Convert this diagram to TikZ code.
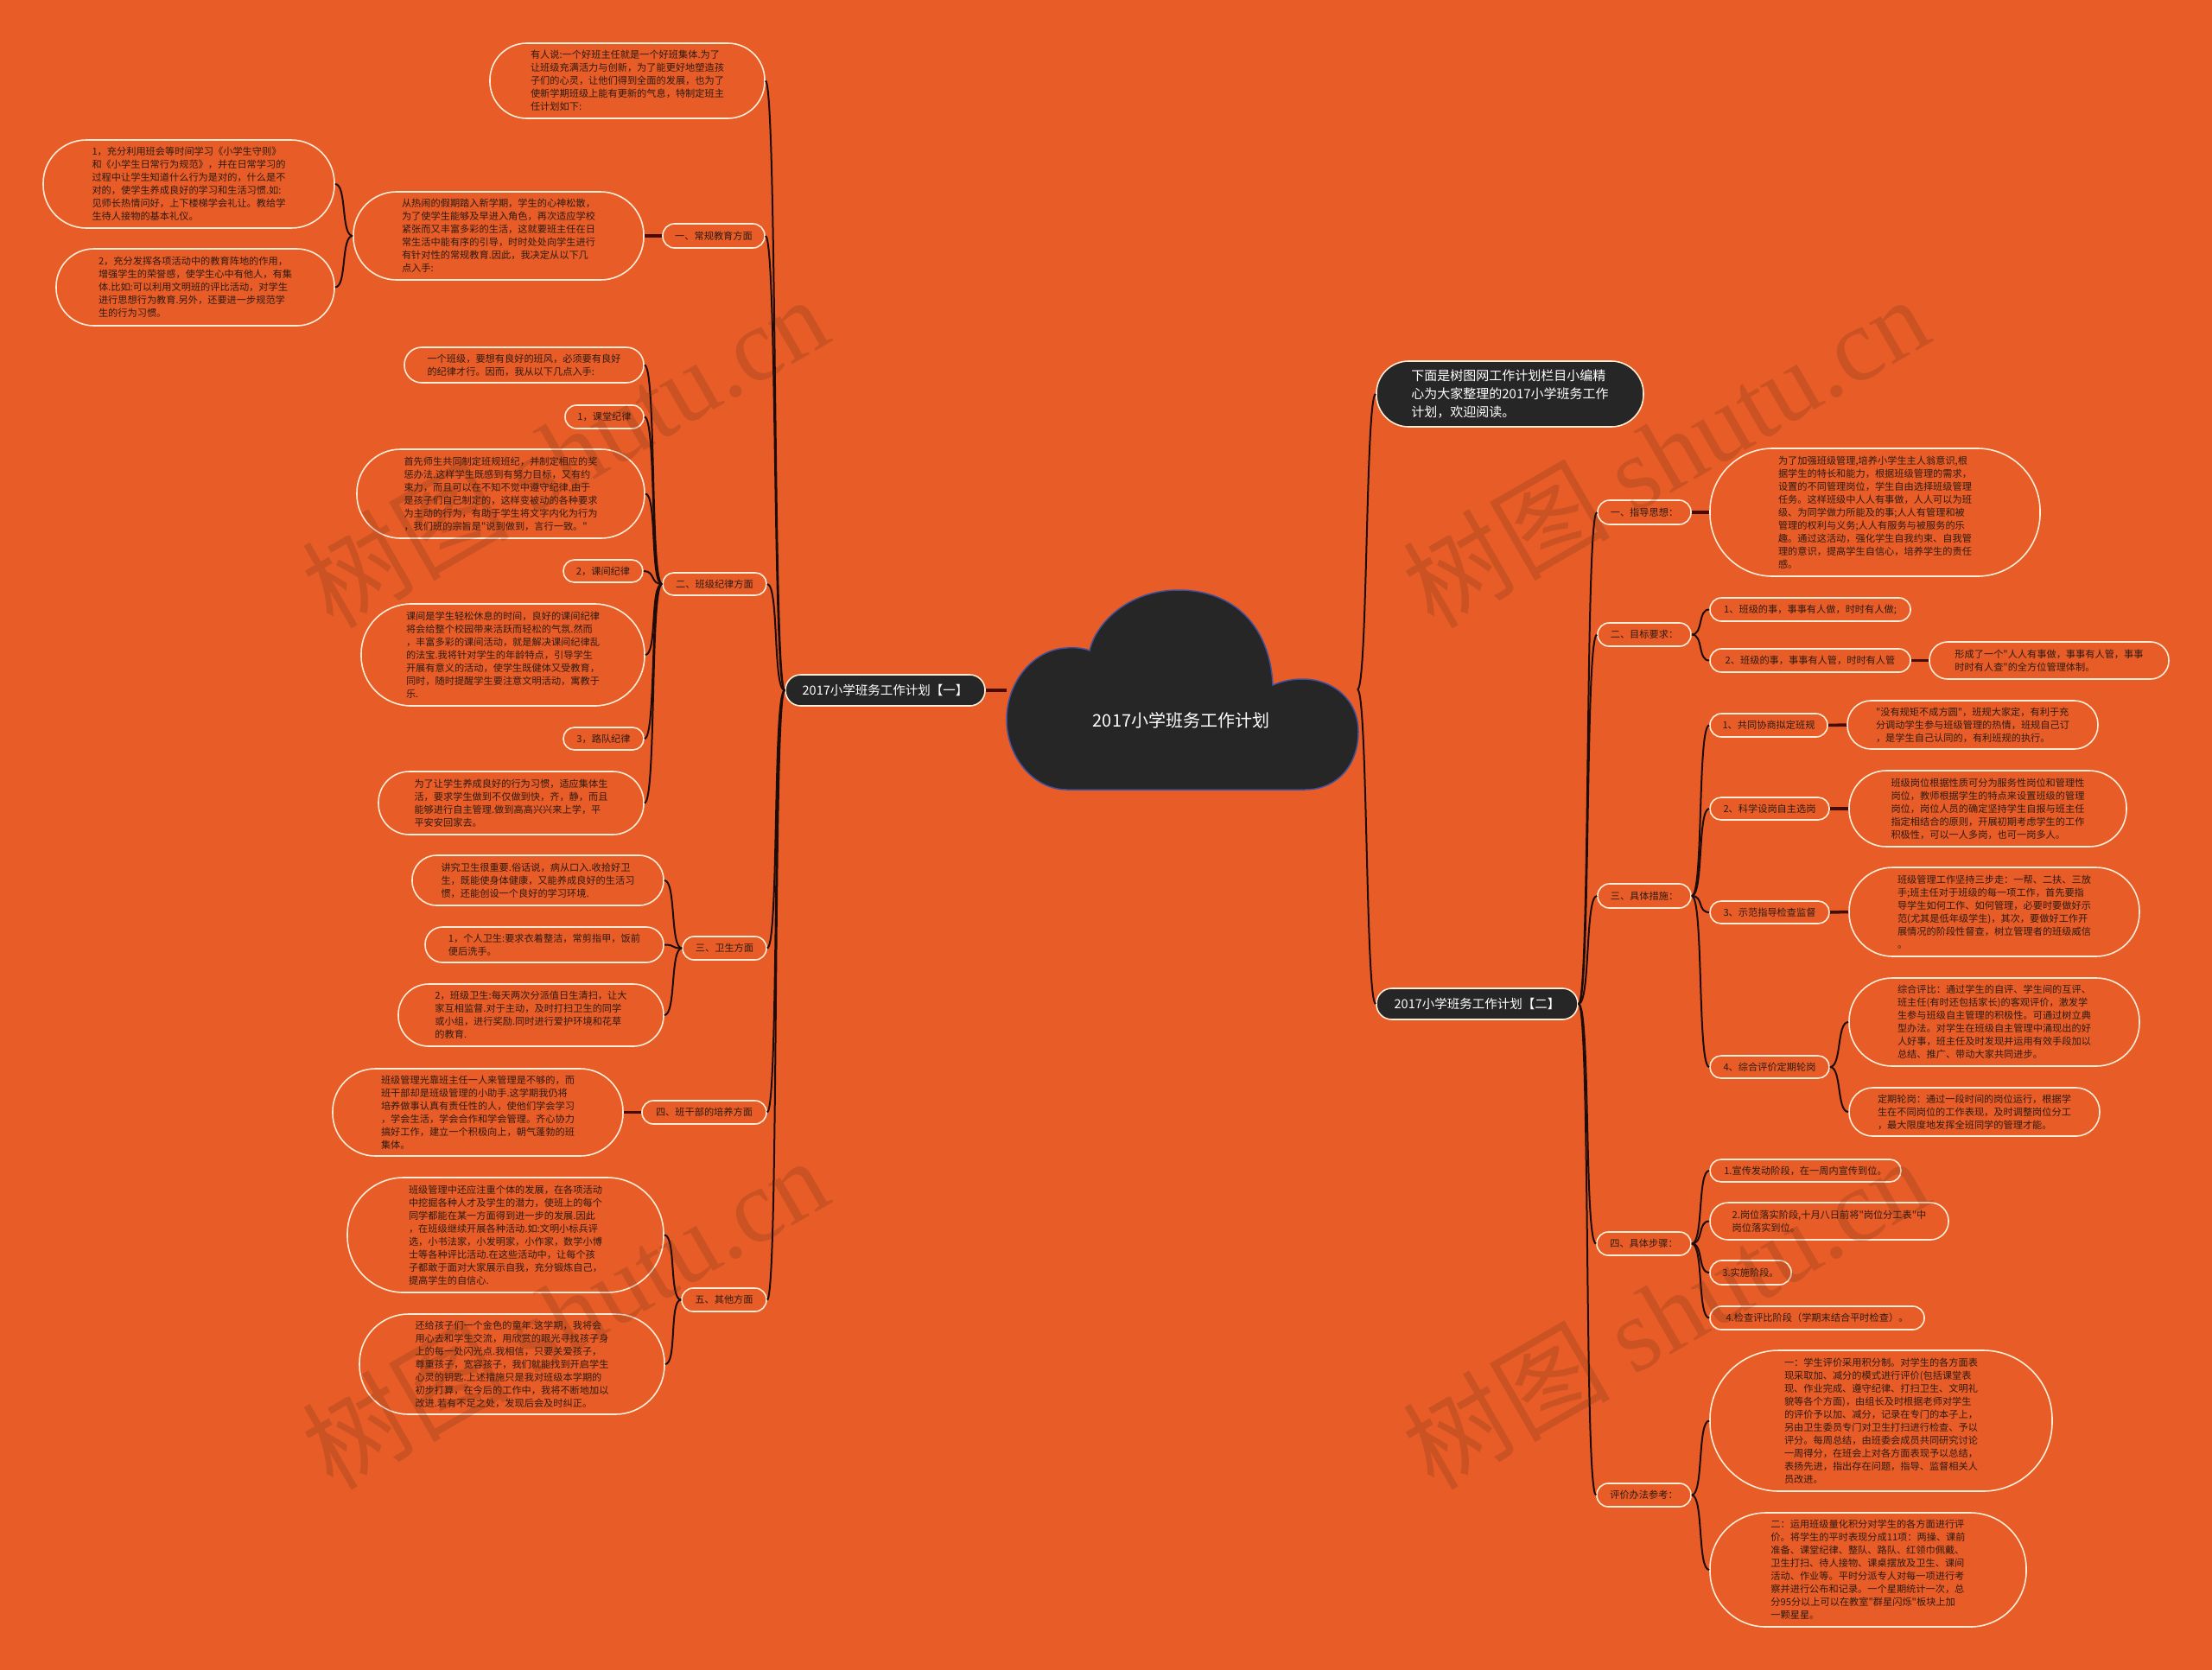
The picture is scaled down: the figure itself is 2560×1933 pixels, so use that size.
\documentclass[tikz,border=0pt]{standalone}
\usepackage{fontspec}
\newfontfamily\cjkfont{Noto Sans CJK SC}
\setmainfont{Noto Sans CJK SC}
\newfontfamily\wmserif{Liberation Serif}
\definecolor{bg}{RGB}{232,93,39}
\definecolor{ink}{RGB}{46,26,18}
\definecolor{rim}{RGB}{255,236,214}
\definecolor{darkfill}{RGB}{38,38,38}
\definecolor{wirec}{RGB}{30,12,8}
\definecolor{stubc}{RGB}{70,12,6}
\definecolor{cloudrim}{RGB}{64,80,154}
\definecolor{wmc}{RGB}{90,40,16}
\newcommand\pill[7]{%
 \pgfmathsetmacro\pcx{(#3+#5)/2}%
 \pgfmathsetmacro\pcy{(#4+#6)/2}%
 \pgfmathsetmacro\pw{#5-#3}%
 \pgfmathsetmacro\ph{#6-#4}%
 \pgfmathsetmacro\prr{0.49*\ph}%
 \node[#1, minimum width=\pw pt, minimum height=\ph pt, rounded corners=\prr pt] (#2) at (\pcx,\pcy) {#7};}
\newcommand\lnk[2]{\draw[wire] (#1.west) .. controls +(-14,0) and +(14,0) .. (#2.east);}
\newcommand\rnk[2]{\draw[wire] (#1.east) .. controls +(14,0) and +(-14,0) .. (#2.west);}
\begin{document}
\begin{tikzpicture}[x=1pt,y=-1pt,
  leaf/.style={draw=rim, line width=1.6pt, fill=bg, text=ink, align=left, inner sep=1pt, font=\cjkfont\fontsize{11.2}{15}\selectfont},
  mainbox/.style={draw=rim, line width=1.6pt, fill=darkfill, text=white, align=left, inner sep=1pt, font=\cjkfont\fontsize{14.5}{20}\selectfont},
  wire/.style={draw=wirec, line width=2pt},
  stub/.style={draw=stubc, line width=3.5pt},
  wmark/.style={rotate=30, text=wmc, opacity=0.2, font=\cjkfont\fontsize{120}{120}\selectfont}]
\useasboundingbox (0,0) rectangle (2560,1933);
\fill[bg] (0,0) rectangle (2560,1933);
% cloud
\path[fill=darkfill, draw=cloudrim, line width=1.5pt]
 (1235,914) -- (1510,914)
 .. controls (1548,914) and (1572,885) .. (1572,847)
 .. controls (1572,810) and (1543,786) .. (1507,786)
 .. controls (1492,786) and (1480,790) .. (1473,793)
 .. controls (1470,725) and (1428,683) .. (1364,683)
 .. controls (1305,683) and (1268,722) .. (1261,753)
 .. controls (1253,750) and (1243,749) .. (1234,750)
 .. controls (1195,752) and (1165,790) .. (1165,833)
 .. controls (1165,875) and (1195,914) .. (1235,914) -- cycle;
\node[text=white, font=\cjkfont\fontsize{20}{24}\selectfont] (root) at (1367,834) {2017小学班务工作计划};
\coordinate (rootL) at (1165,799);
\coordinate (rootR) at (1571,798);
% main branches
\pill{mainbox}{plan1}{909}{781}{1140}{817}{2017小学班务工作计划【一】}
\pill{mainbox}{plan2}{1593}{1144}{1826}{1180}{2017小学班务工作计划【二】}
\pill{mainbox,font=\cjkfont\fontsize{15}{20.7}\selectfont}{rintro}{1593}{418}{1902}{494}{下面是树图网工作计划栏目小编精\\心为大家整理的2017小学班务工作\\计划，欢迎阅读。}
% left side
\pill{leaf}{intro1}{567}{50}{885}{137}{有人说:一个好班主任就是一个好班集体.为了\\让班级充满活力与创新，为了能更好地塑造孩\\子们的心灵，让他们得到全面的发展，也为了\\使新学期班级上能有更新的气息，特制定班主\\任计划如下:}
\pill{leaf}{cat1}{767}{259}{885}{287}{一、常规教育方面}
\pill{leaf}{c1t}{409}{222}{745}{324}{从热闹的假期踏入新学期，学生的心神松散，\\为了使学生能够及早进入角色，再次适应学校\\紧张而又丰富多彩的生活，这就要班主任在日\\常生活中能有序的引导，时时处处向学生进行\\有针对性的常规教育.因此，我决定从以下几\\点入手:}
\pill{leaf}{l1}{50}{162}{387}{264}{1，充分利用班会等时间学习《小学生守则》\\和《小学生日常行为规范》，并在日常学习的\\过程中让学生知道什么行为是对的，什么是不\\对的，使学生养成良好的学习和生活习惯.如:\\见师长热情问好，上下楼梯学会礼让。教给学\\生待人接物的基本礼仪。}
\pill{leaf}{l2}{65}{288}{387}{377}{2，充分发挥各项活动中的教育阵地的作用，\\增强学生的荣誉感，使学生心中有他人，有集\\体.比如:可以利用文明班的评比活动，对学生\\进行思想行为教育.另外，还要进一步规范学\\生的行为习惯。}
\pill{leaf}{cat2}{767}{663}{887}{689}{二、班级纪律方面}
\pill{leaf}{d0}{468}{402}{745}{443}{一个班级，要想有良好的班风，必须要有良好\\的纪律才行。因而，我从以下几点入手:}
\pill{leaf}{d1}{654}{469}{745}{496}{1，课堂纪律}
\pill{leaf}{d2}{413}{520}{746}{623}{首先师生共同制定班规班纪，并制定相应的奖\\惩办法.这样学生既感到有努力目标，又有约\\束力，而且可以在不知不觉中遵守纪律.由于\\是孩子们自己制定的，这样变被动的各种要求\\为主动的行为，有助于学生将文字内化为行为\\，我们班的宗旨是"说到做到，言行一致。"}
\pill{leaf}{d3}{652}{648}{744}{674}{2，课间纪律}
\pill{leaf}{d4}{418}{699}{746}{817}{课间是学生轻松休息的时间，良好的课间纪律\\将会给整个校园带来活跃而轻松的气氛.然而\\，丰富多彩的课间活动，就是解决课间纪律乱\\的法宝.我将针对学生的年龄特点，引导学生\\开展有意义的活动，使学生既健体又受教育，\\同时，随时提醒学生要注意文明活动，寓教于\\乐.}
\pill{leaf}{d5}{652}{842}{745}{868}{3，路队纪律}
\pill{leaf}{d6}{438}{893}{745}{966}{为了让学生养成良好的行为习惯，适应集体生\\活，要求学生做到不仅做到快，齐，静，而且\\能够进行自主管理.做到高高兴兴来上学，平\\平安安回家去。}
\pill{leaf}{cat3}{790}{1084}{887}{1111}{三、卫生方面}
\pill{leaf}{e1}{477}{990}{768}{1048}{讲究卫生很重要.俗话说，病从口入.收拾好卫\\生，既能使身体健康，又能养成良好的生活习\\惯，还能创设一个良好的学习环境.}
\pill{leaf}{e2}{492}{1073}{768}{1114}{1，个人卫生:要求衣着整洁，常剪指甲，饭前\\便后洗手。}
\pill{leaf}{e3}{461}{1139}{768}{1211}{2，班级卫生:每天两次分派值日生清扫，让大\\家互相监督.对于主动，及时打扫卫生的同学\\或小组，进行奖励.同时进行爱护环境和花草\\的教育.}
\pill{leaf}{cat4}{743}{1274}{887}{1301}{四、班干部的培养方面}
\pill{leaf}{f1}{385}{1237}{721}{1338}{班级管理光靠班主任一人来管理是不够的，而\\班干部却是班级管理的小助手.这学期我仍将\\培养做事认真有责任性的人，使他们学会学习\\，学会生活，学会合作和学会管理。齐心协力\\搞好工作，建立一个积极向上，朝气蓬勃的班\\集体。}
\pill{leaf}{cat5}{789}{1491}{887}{1518}{五、其他方面}
\pill{leaf}{g1}{402}{1363}{768}{1496}{班级管理中还应注重个体的发展，在各项活动\\中挖掘各种人才及学生的潜力，使班上的每个\\同学都能在某一方面得到进一步的发展.因此\\，在班级继续开展各种活动.如:文明小标兵评\\选，小书法家，小发明家，小作家，数学小博\\士等各种评比活动.在这些活动中，让每个孩\\子都敢于面对大家展示自我，充分锻炼自己，\\提高学生的自信心.}
\pill{leaf}{g2}{416}{1521}{769}{1637}{还给孩子们一个金色的童年.这学期，我将会\\用心去和学生交流，用欣赏的眼光寻找孩子身\\上的每一处闪光点.我相信，只要关爱孩子，\\尊重孩子，宽容孩子，我们就能找到开启学生\\心灵的钥匙.上述措施只是我对班级本学期的\\初步打算，在今后的工作中，我将不断地加以\\改进.若有不足之处，发现后会及时纠正。}
% right side
\pill{leaf}{r1}{1849}{579}{1957}{607}{一、指导思想：}
\pill{leaf}{r1t}{1979}{519}{2361}{667}{为了加强班级管理,培养小学生主人翁意识,根\\据学生的特长和能力，根据班级管理的需求，\\设置的不同管理岗位，学生自由选择班级管理\\任务。这样班级中人人有事做，人人可以为班\\级、为同学做力所能及的事;人人有管理和被\\管理的权利与义务;人人有服务与被服务的乐\\趣。通过这活动，强化学生自我约束、自我管\\理的意识，提高学生自信心，培养学生的责任\\感。}
\pill{leaf}{r2}{1849}{721}{1957}{748}{二、目标要求：}
\pill{leaf}{r2a}{1979}{692}{2211}{719}{1、班级的事，事事有人做，时时有人做;}
\pill{leaf}{r2b}{1979}{751}{2211}{778}{2、班级的事，事事有人管，时时有人管}
\pill{leaf}{r2bt}{2233}{743}{2510}{786}{形成了一个"人人有事做，事事有人管，事事\\时时有人查"的全方位管理体制。}
\pill{leaf}{r3}{1849}{1023}{1957}{1051}{三、具体措施：}
\pill{leaf}{r3a}{1979}{826}{2115}{853}{1、共同协商拟定班规}
\pill{leaf}{r3at}{2138}{811}{2428}{867}{"没有规矩不成方圆"，班规大家定，有利于充\\分调动学生参与班级管理的热情，班规自己订\\，是学生自己认同的，有利班规的执行。}
\pill{leaf}{r3b}{1979}{923}{2117}{949}{2、科学设岗自主选岗}
\pill{leaf}{r3bt}{2140}{892}{2461}{980}{班级岗位根据性质可分为服务性岗位和管理性\\岗位，教师根据学生的特点来设置班级的管理\\岗位，岗位人员的确定坚持学生自报与班主任\\指定相结合的原则，开展初期考虑学生的工作\\积极性，可以一人多岗，也可一岗多人。}
\pill{leaf}{r3c}{1979}{1043}{2117}{1069}{3、示范指导检查监督}
\pill{leaf}{r3ct}{2140}{1004}{2476}{1107}{班级管理工作坚持三步走：一帮、二扶、三放\\手;班主任对于班级的每一项工作，首先要指\\导学生如何工作、如何管理，必要时要做好示\\范(尤其是低年级学生)，其次，要做好工作开\\展情况的阶段性督查，树立管理者的班级威信\\。}
\pill{leaf}{r3d}{1979}{1222}{2117}{1248}{4、综合评价定期轮岗}
\pill{leaf}{r3dt1}{2140}{1132}{2476}{1234}{综合评比：通过学生的自评、学生间的互评、\\班主任(有时还包括家长)的客观评价，激发学\\生参与班级自主管理的积极性。可通过树立典\\型办法。对学生在班级自主管理中涌现出的好\\人好事，班主任及时发现并运用有效手段加以\\总结、推广、带动大家共同进步。}
\pill{leaf}{r3dt2}{2140}{1259}{2430}{1315}{定期轮岗：通过一段时间的岗位运行，根据学\\生在不同岗位的工作表现，及时调整岗位分工\\，最大限度地发挥全班同学的管理才能。}
\pill{leaf}{r4}{1848}{1426}{1957}{1453}{四、具体步骤：}
\pill{leaf}{r4a}{1979}{1342}{2200}{1368}{1.宣传发动阶段，在一周内宣传到位。}
\pill{leaf}{r4b}{1979}{1392}{2255}{1435}{2.岗位落实阶段,十月八日前将"岗位分工表"中\\岗位落实到位。}
\pill{leaf}{r4c}{1979}{1459}{2073}{1487}{3.实施阶段。}
\pill{leaf}{r4d}{1979}{1512}{2227}{1539}{4.检查评比阶段（学期末结合平时检查）。}
\pill{leaf}{r5}{1848}{1717}{1957}{1744}{评价办法参考：}
\pill{leaf}{r5a}{1979}{1563}{2375}{1726}{一：学生评价采用积分制。对学生的各方面表\\现采取加、减分的模式进行评价(包括课堂表\\现、作业完成、遵守纪律、打扫卫生、文明礼\\貌等各个方面)，由组长及时根据老师对学生\\的评价予以加、减分，记录在专门的本子上，\\另由卫生委员专门对卫生打扫进行检查、予以\\评分。每周总结，由班委会成员共同研究讨论\\一周得分，在班会上对各方面表现予以总结，\\表扬先进，指出存在问题，指导、监督相关人\\员改进。}
\pill{leaf}{r5b}{1979}{1751}{2345}{1883}{二：运用班级量化积分对学生的各方面进行评\\价。将学生的平时表现分成11项：两操、课前\\准备、课堂纪律、整队、路队、红领巾佩戴、\\卫生打扫、待人接物、课桌摆放及卫生、课间\\活动、作业等。平时分派专人对每一项进行考\\察并进行公布和记录。一个星期统计一次，总\\分95分以上可以在教室"群星闪烁"板块上加\\一颗星星。}
% connectors
\draw[stub] (plan1.east) -- (rootL);
\draw[wire] (rootR) .. controls +(12,0) and +(-12,0) .. (rintro.west);
\draw[wire] (rootR) .. controls +(12,0) and +(-12,0) .. (plan2.west);
\lnk{plan1}{intro1}
\lnk{plan1}{cat1}
\lnk{plan1}{cat2}
\lnk{plan1}{cat3}
\lnk{plan1}{cat4}
\lnk{plan1}{cat5}
\draw[stub] (cat1.west) -- (c1t.east);
\lnk{c1t}{l1}
\lnk{c1t}{l2}
\lnk{cat2}{d0}
\lnk{cat2}{d1}
\lnk{cat2}{d2}
\lnk{cat2}{d3}
\lnk{cat2}{d4}
\lnk{cat2}{d5}
\lnk{cat2}{d6}
\lnk{cat3}{e1}
\lnk{cat3}{e2}
\lnk{cat3}{e3}
\draw[stub] (cat4.west) -- (f1.east);
\lnk{cat5}{g1}
\lnk{cat5}{g2}
\rnk{plan2}{r1}
\rnk{plan2}{r2}
\rnk{plan2}{r3}
\rnk{plan2}{r4}
\rnk{plan2}{r5}
\draw[stub] (r1.east) -- (r1t.west);
\rnk{r2}{r2a}
\rnk{r2}{r2b}
\draw[stub] (r2b.east) -- (r2bt.west);
\rnk{r3}{r3a}
\rnk{r3}{r3b}
\rnk{r3}{r3c}
\rnk{r3}{r3d}
\draw[stub] (r3a.east) -- (r3at.west);
\draw[stub] (r3b.east) -- (r3bt.west);
\draw[stub] (r3c.east) -- (r3ct.west);
\rnk{r3d}{r3dt1}
\rnk{r3d}{r3dt2}
\rnk{r4}{r4a}
\rnk{r4}{r4b}
\rnk{r4}{r4c}
\rnk{r4}{r4d}
\rnk{r5}{r5a}
\rnk{r5}{r5b}
% watermarks
\node[wmark] (wm1) at (653,522) {树图 {\wmserif shutu.cn}};
\node[wmark] (wm2) at (1927,522) {树图 {\wmserif shutu.cn}};
\node[wmark] (wm3) at (653,1519) {树图 {\wmserif shutu.cn}};
\node[wmark] (wm4) at (1927,1519) {树图 {\wmserif shutu.cn}};
\end{tikzpicture}
\end{document}
